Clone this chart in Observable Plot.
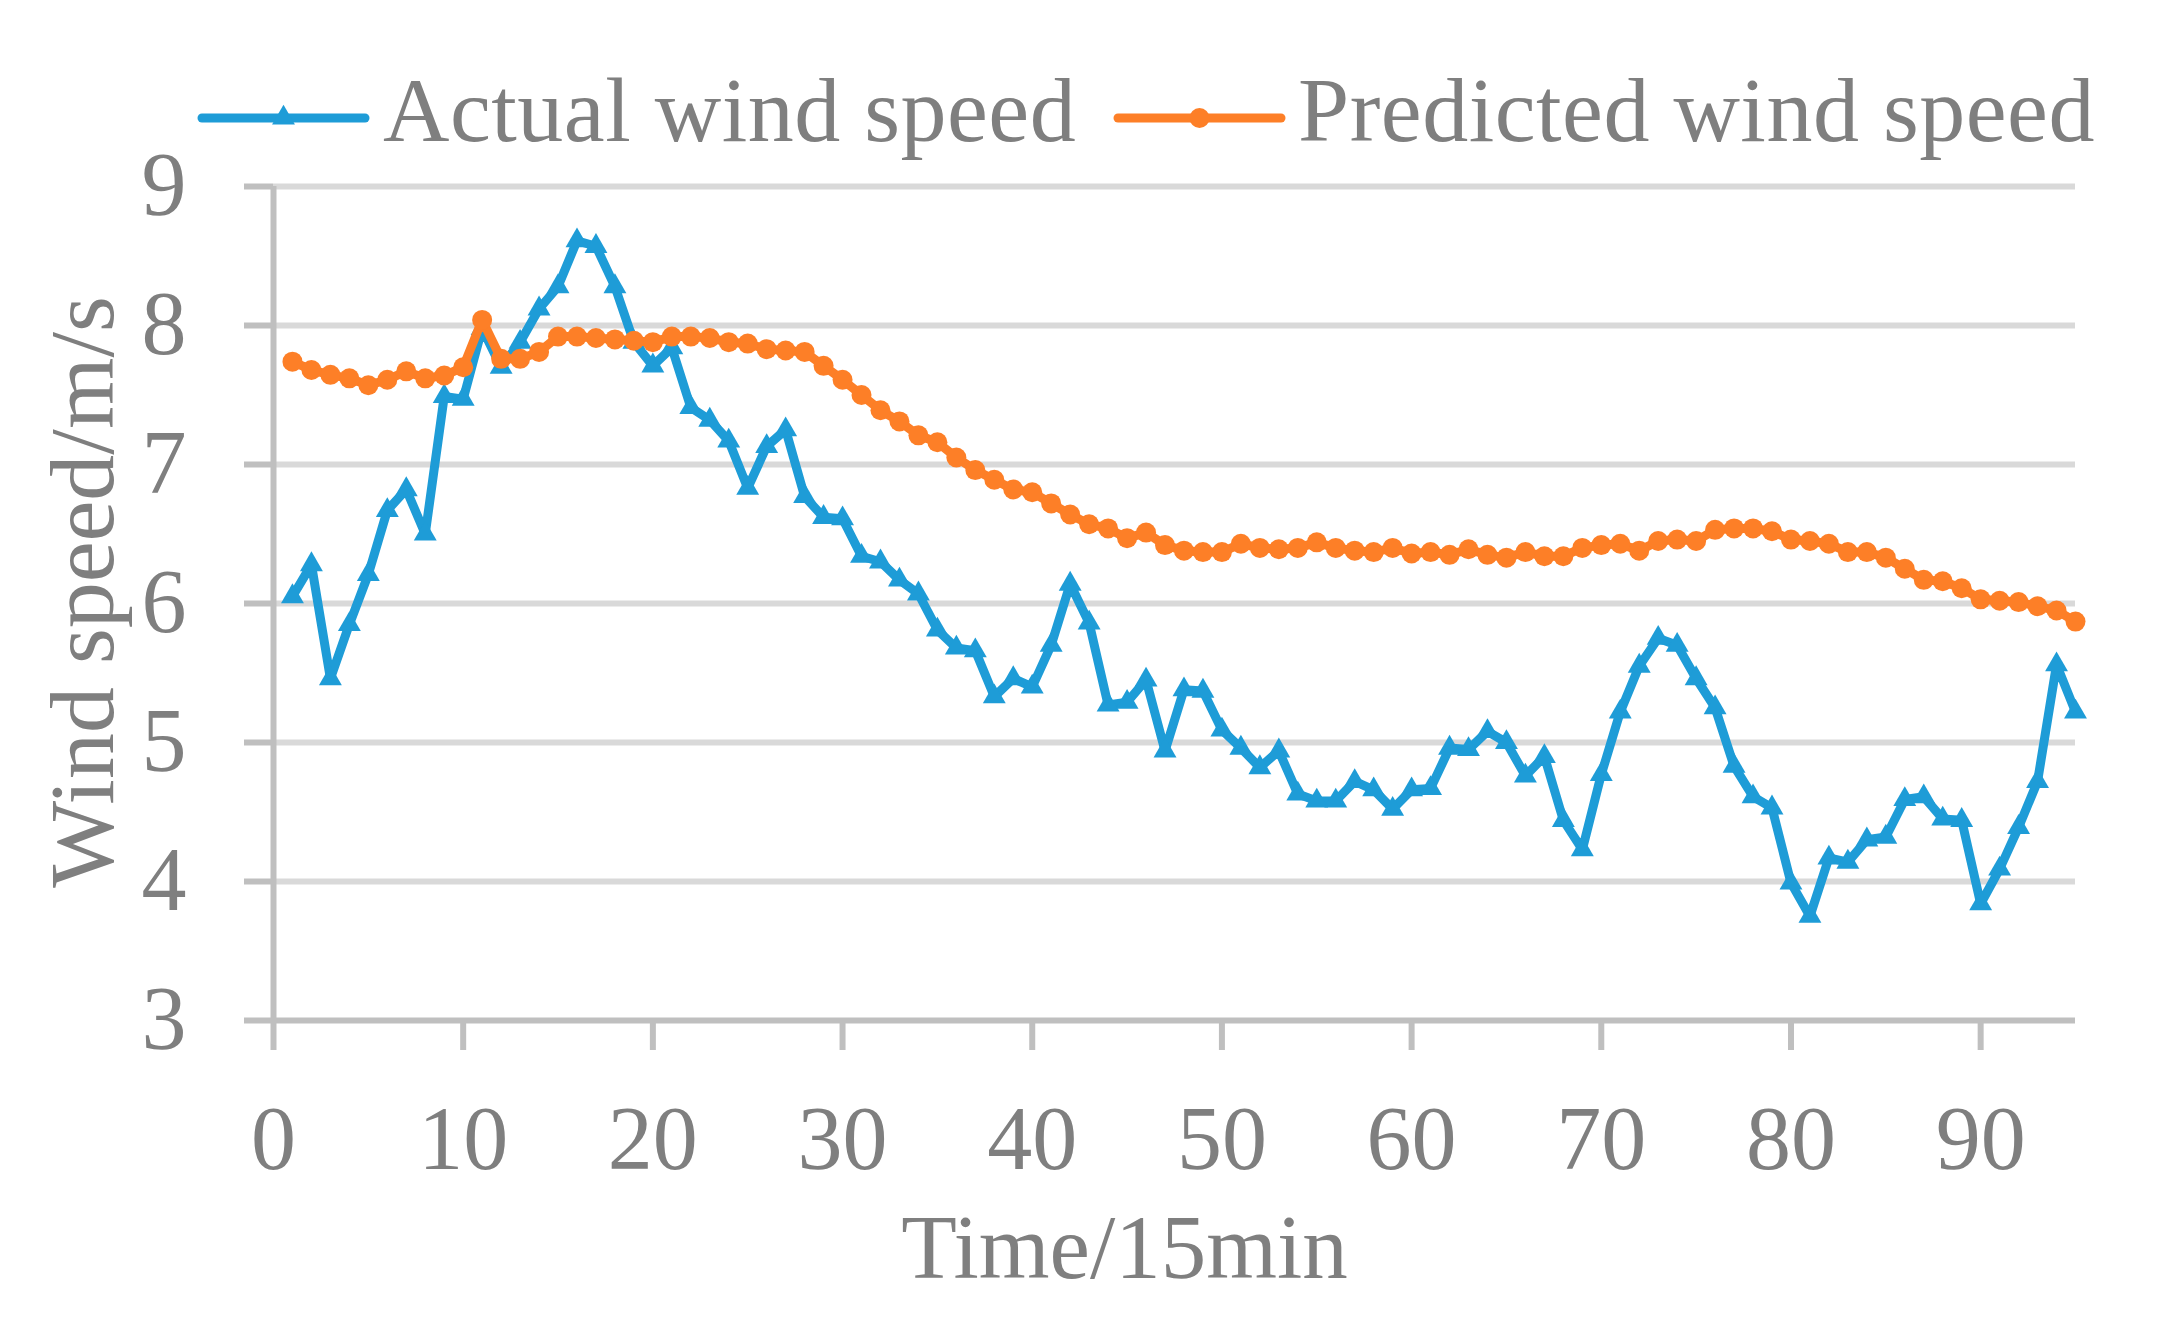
<!DOCTYPE html>
<html>
<head>
<meta charset="utf-8">
<script src="https://cdn.jsdelivr.net/npm/d3@7"></script>
<script src="https://cdn.jsdelivr.net/npm/@observablehq/plot@0.6"></script>
<style>
  html, body { margin: 0; padding: 0; background: #ffffff; }
  svg { display: block; }
</style>
</head>
<body>
<div id="chart"></div>
<script>
// ---- data ----
const seriesNames = ["Actual wind speed", "Predicted wind speed"];
const xTicks = [0, 10, 20, 30, 40, 50, 60, 70, 80, 90];
const yTicks = [3, 4, 5, 6, 7, 8, 9];
const xTitle = "Time/15min";
const yTitle = "Wind speed/m/s";

const actual = [
  6.05, 6.28, 5.46, 5.85, 6.21, 6.67, 6.82, 6.50, 7.49, 7.47,
  7.98, 7.70, 7.88, 8.12, 8.28, 8.61, 8.57, 8.28, 7.88, 7.71,
  7.84, 7.41, 7.32, 7.17, 6.83, 7.13, 7.25, 6.77, 6.62, 6.61,
  6.34, 6.30, 6.17, 6.07, 5.81, 5.68, 5.66, 5.33, 5.46, 5.40,
  5.70, 6.14, 5.86, 5.27, 5.29, 5.45, 4.94, 5.38, 5.37, 5.09,
  4.96, 4.82, 4.94, 4.63, 4.58, 4.58, 4.72, 4.66, 4.52, 4.66,
  4.67, 4.96, 4.95, 5.08, 5.00, 4.76, 4.90, 4.44, 4.23, 4.77,
  5.22, 5.55, 5.75, 5.70, 5.46, 5.25, 4.83, 4.61, 4.53, 3.99,
  3.75, 4.17, 4.14, 4.30, 4.32, 4.59, 4.61, 4.45, 4.44, 3.84,
  4.09, 4.39, 4.72, 5.56, 5.22
];

const predicted = [
  7.74, 7.68, 7.645, 7.62, 7.57, 7.61, 7.67, 7.62, 7.64, 7.70,
  8.04, 7.76, 7.76, 7.81, 7.92, 7.92, 7.91, 7.90, 7.89, 7.88,
  7.92, 7.92, 7.91, 7.88, 7.87, 7.83, 7.82, 7.81, 7.71, 7.61,
  7.50, 7.39, 7.31, 7.21, 7.16, 7.05, 6.96, 6.89, 6.82, 6.80,
  6.72, 6.64, 6.57, 6.54, 6.47, 6.51, 6.42, 6.38, 6.37, 6.37,
  6.43, 6.40, 6.39, 6.40, 6.44, 6.40, 6.38, 6.37, 6.40, 6.36,
  6.37, 6.35, 6.39, 6.35, 6.33, 6.37, 6.34, 6.34, 6.40, 6.42,
  6.43, 6.38, 6.45, 6.46, 6.45, 6.53, 6.54, 6.54, 6.52, 6.46,
  6.45, 6.43, 6.37, 6.37, 6.33, 6.25, 6.17, 6.16, 6.11, 6.03,
  6.02, 6.01, 5.98, 5.95, 5.87
];

// ---- styles ----
const BLUE = "#1e9cd7";
const ORANGE = "#fd7f27";
const TEXT = "#7f7f7f";
const AXIS = "#bfbfbf";
const GRID = "#d9d9d9";
const FONT = "'Liberation Serif', 'Times New Roman', serif";
const LINE_W = 9;
const TRI_R = 8.5;
const DOT_R = 10;

const actualData = actual.map((v, i) => ({t: i + 1, v}));
const predData = predicted.map((v, i) => ({t: i + 1, v}));

// ---- legend (above the plot svg) ----
const legendH = 160;
const legend = d3.create("svg")
  .attr("width", 2174).attr("height", legendH)
  .style("font-family", FONT);
const legendItems = [
  {name: seriesNames[0], color: BLUE, sym: d3.symbolTriangle, r: TRI_R, lx: 202, tx: 383},
  {name: seriesNames[1], color: ORANGE, sym: d3.symbolCircle, r: DOT_R, lx: 1118, tx: 1298}
];
for (const it of legendItems) {
  const g = legend.append("g");
  g.append("line")
    .attr("x1", it.lx).attr("x2", it.lx + 163)
    .attr("y1", 118).attr("y2", 118)
    .attr("stroke", it.color).attr("stroke-width", LINE_W)
    .attr("stroke-linecap", "round");
  g.append("path")
    .attr("d", d3.symbol(it.sym, Math.PI * it.r * it.r)())
    .attr("transform", `translate(${it.lx + 81.5},118)`)
    .attr("fill", it.color);
  g.append("text")
    .attr("x", it.tx).attr("y", 141)
    .attr("fill", TEXT)
    .attr("font-size", 92)
    .attr("letter-spacing", 0.5)
    .text(it.name);
}

// ---- plot ----
const chart = Plot.plot({
  width: 2174,
  height: 1175,
  marginLeft: 273,
  marginRight: 99,
  marginTop: 26,
  marginBottom: 315,
  style: {fontFamily: FONT, fontSize: "88px", color: TEXT, background: "#ffffff", overflow: "visible"},
  x: {domain: [0, 95]},
  y: {domain: [3, 9]},
  marks: [
    Plot.ruleY(yTicks.filter(d => d > 3), {x1: 0, x2: 95, stroke: GRID, strokeWidth: 6}),
    Plot.axisY(yTicks, {tickSize: 29, tickPadding: 58, stroke: AXIS, strokeWidth: 6, fill: TEXT, fontSize: 90, label: null, tickFormat: d3.format("d")}),
    Plot.axisX(xTicks, {tickSize: 30, tickPadding: 55, stroke: AXIS, strokeWidth: 6, fill: TEXT, fontSize: 90, label: null, tickFormat: d3.format("d")}),
    Plot.ruleY([3], {x1: 0, x2: 95, stroke: AXIS, strokeWidth: 6}),
    Plot.ruleX([0], {y1: 3, y2: 9, stroke: AXIS, strokeWidth: 6}),
    Plot.line(actualData, {x: "t", y: "v", stroke: BLUE, strokeWidth: LINE_W, strokeLinejoin: "round", strokeLinecap: "round"}),
    Plot.dot(actualData, {x: "t", y: "v", symbol: "triangle", r: TRI_R, fill: BLUE, stroke: "none"}),
    Plot.line(predData, {x: "t", y: "v", stroke: ORANGE, strokeWidth: LINE_W, strokeLinejoin: "round", strokeLinecap: "round"}),
    Plot.dot(predData, {x: "t", y: "v", r: DOT_R, fill: ORANGE, stroke: "none"}),
    Plot.text([xTitle], {frameAnchor: "bottom", textAnchor: "middle", lineAnchor: "middle", dx: -50, dy: 228, fontSize: 91, fill: TEXT}),
    Plot.text([yTitle], {frameAnchor: "left", textAnchor: "middle", lineAnchor: "middle", rotate: -90, dx: -190, dy: -11.5, fontSize: 92, fill: TEXT, letterSpacing: 6})
  ]
});

const root = document.getElementById("chart");
root.appendChild(legend.node());
root.appendChild(chart);
</script>
</body>
</html>
